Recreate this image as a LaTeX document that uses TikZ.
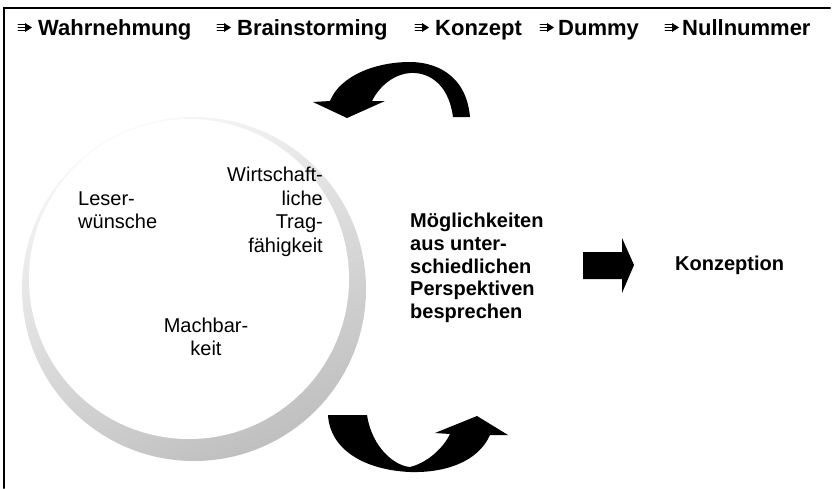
\documentclass[tikz,border=0pt]{standalone}
\usepackage{fontspec}
\setmainfont{Liberation Sans}
\usetikzlibrary{positioning}

\begin{document}
\begin{tikzpicture}
	[x=1pt,y=-1pt,line cap=round,
	%Styles
	head text/.style={font=\bfseries\fontsize{22}{24}\selectfont,anchor=base west,inner sep=0pt},
	ring text/.style={font=\fontsize{20}{23.5}\selectfont,inner sep=0pt,align=#1},
	bold text/.style={font=\bfseries\fontsize{20}{22.8}\selectfont,inner sep=0pt,align=left},
	big arrow/.style={fill=black}
	]
	\useasboundingbox (0,0) rectangle (833,488);

	%Frame
	\draw[line width=2pt] (4,488) -- (4,8) -- (830,8);

	%Header with bullets
	\foreach \name/\bx/\tx/\txt in {wahr/18/38/Wahrnehmung, brain/217/237/Brainstorming,
		konz/415/435/Konzept, dummy/540/558/Dummy, null/665/682/Nullnummer}{
		\node[head text] (\name) at (\tx,35) {\txt};
		\fill (\bx+7,23) -- (\bx+14,27.5) -- (\bx+7,32) -- cycle;
		\foreach \dy in {24.5,27.5,30.5}
			\draw[line width=0.9pt] (\bx,\dy) -- (\bx+8,\dy);
	}

	%The ring
	\shade[top color=gray!6,bottom color=gray!50,shading angle=25] (194,289) circle (172pt);
	\fill[white] (189,279) circle (160pt);

	\node[ring text=left,anchor=west] (leser) at (78,210) {Leser-\\wünsche};
	\node[ring text=right,anchor=east] (wirt) at (323,212) {Wirtschaft-\\liche\\Trag-\\fähigkeit};
	\node[ring text=center] (mach) at (206,337) {Machbar-\\keit};

	%Top arrow
	\fill[big arrow] (470,117) .. controls (466,72) and (432,62) .. (410,62)
		.. controls (375,62) and (340,76) .. (330,101)
		-- (313,102) -- (347,118) -- (385,101) -- (372,101)
		.. controls (380,85) and (395,74) .. (410,73)
		.. controls (425,72) and (448,80) .. (453,117) -- cycle;

	%Bottom arrow
	\fill[big arrow] (328,415) -- (367,415)
		.. controls (372,448) and (395,466) .. (410,467)
		.. controls (430,462) and (445,445) .. (450,434)
		-- (435,433) -- (477,416) -- (508,435) -- (490,435)
		.. controls (478,462) and (445,473) .. (410,472)
		.. controls (365,470) and (330,450) .. (328,415) -- cycle;

	%Discussion and result
	\node[bold text,anchor=west] (moegl) at (410,268) {Möglichkeiten\\aus unter-\\schiedlichen\\Perspektiven\\besprechen};
	\fill[big arrow] (583,252) -- (622,252) -- (622,238) -- (634,265) -- (622,293) -- (622,279) -- (583,279) -- cycle;
	\node[bold text,anchor=west] (konzeption) at (675,265) {Konzeption};
\end{tikzpicture}
\end{document}
